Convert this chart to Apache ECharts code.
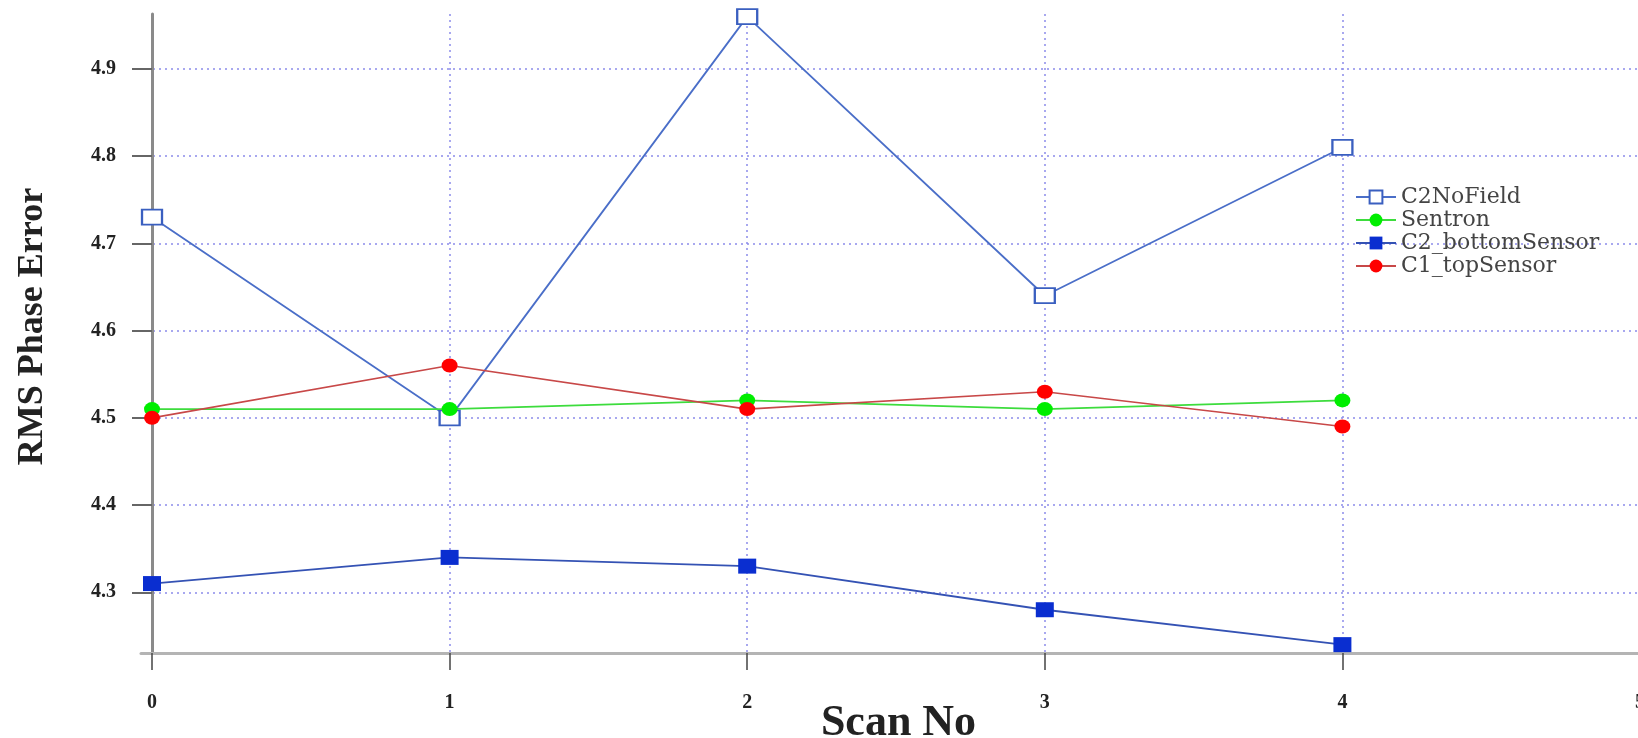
<!DOCTYPE html>
<html>
<head>
<meta charset="utf-8">
<script src="https://cdn.jsdelivr.net/npm/echarts@6/dist/echarts.min.js"></script>
<style>
html,body{margin:0;padding:0;background:#fff;}
#chart{width:1638px;height:738px;}
</style>
</head>
<body>
<div id="chart"></div>
<script>
const scanNo = [0, 1, 2, 3, 4];
const xTicks = [0, 1, 2, 3, 4, 5];
const yTicks = [4.3, 4.4, 4.5, 4.6, 4.7, 4.8, 4.9];
const c2NoField = [4.73, 4.50, 4.96, 4.64, 4.81];
const sentron = [4.51, 4.51, 4.52, 4.51, 4.52];
const c2Bottom = [4.31, 4.34, 4.33, 4.28, 4.24];
const c1Top = [4.50, 4.56, 4.51, 4.53, 4.49];

const pairs = ys => scanNo.map((x, i) => [x, ys[i]]);
const serif = 'Liberation Serif';

const chart = echarts.init(document.getElementById('chart'), null, {renderer: 'canvas'});
chart.setOption({
  backgroundColor: '#ffffff',
  animation: false,
  grid: {left: 141, right: -2, top: 14, bottom: 85, containLabel: false, outerBoundsMode: 'none'},
  legend: {
    orient: 'vertical',
    left: 1350,
    top: 181,
    padding: 5,
    itemWidth: 40,
    itemHeight: 16,
    itemGap: 1,
    textStyle: {fontFamily: 'DejaVu Serif', fontSize: 22, color: '#444'},
    data: ['C2NoField', 'Sentron', 'C2_bottomSensor', 'C1_topSensor']
  },
  xAxis: {
    type: 'value',
    min: -0.037,
    max: 5,
    name: 'Scan No',
    nameLocation: 'middle',
    nameGap: 49,
    nameMoveOverlap: false,
    nameTextStyle: {fontFamily: serif, fontWeight: 'bold', fontSize: 44, color: '#222', padding: [0, 0, 0, 16]},
    axisLine: {show: true, onZero: false, lineStyle: {color: '#b4b4b4', width: 3}},
    axisTick: {show: true, customValues: xTicks, length: 17, inside: false, lineStyle: {color: '#444', width: 1.5}},
    axisLabel: {show: true, customValues: xTicks, margin: 40, fontFamily: serif, fontWeight: 'bold', fontSize: 20, color: '#222',
      formatter: v => String(Math.round(v))},
    splitLine: {show: true, lineStyle: {color: '#8c8cea', type: [2, 4], width: 1.5}}
  },
  yAxis: {
    type: 'value',
    min: 4.2304,
    max: 4.963,
    name: 'RMS Phase Error',
    nameLocation: 'middle',
    nameRotate: 90,
    nameGap: 90,
    nameMoveOverlap: false,
    nameTextStyle: {fontFamily: serif, fontWeight: 'bold', fontSize: 36, color: '#222', padding: [0, 0, 0, 14]},
    axisLine: {show: true, lineStyle: {color: '#8a8a8a', width: 3}},
    axisTick: {show: true, customValues: yTicks, length: 20, lineStyle: {color: '#666', width: 2}},
    axisLabel: {show: true, customValues: yTicks, margin: 25, fontFamily: serif, fontWeight: 'bold', fontSize: 20, color: '#222',
      formatter: v => v.toFixed(1)},
    splitLine: {show: true, lineStyle: {color: '#8c8cea', type: [2, 4], width: 1.5}}
  },
  series: [
    {
      name: 'C2NoField', type: 'line', data: pairs(c2NoField),
      symbol: 'emptyRect', symbolSize: [20, 15],
      lineStyle: {color: '#4a6ec8', width: 1.8},
      itemStyle: {color: '#3a5fc0', borderColor: '#3a5fc0', borderWidth: 2},
      z: 3
    },
    {
      name: 'Sentron', type: 'line', data: pairs(sentron),
      symbol: 'circle', symbolSize: [16, 14],
      lineStyle: {color: '#3ddc3d', width: 1.6},
      itemStyle: {color: '#00ee00'},
      z: 4
    },
    {
      name: 'C2_bottomSensor', type: 'line', data: pairs(c2Bottom),
      symbol: 'rect', symbolSize: [18, 15],
      lineStyle: {color: '#3452b4', width: 1.8},
      itemStyle: {color: '#0a2ed0'},
      z: 3
    },
    {
      name: 'C1_topSensor', type: 'line', data: pairs(c1Top),
      symbol: 'circle', symbolSize: [16, 14],
      lineStyle: {color: '#c84848', width: 1.6},
      itemStyle: {color: '#ff0000'},
      z: 5
    }
  ]
});
</script>
</body>
</html>
